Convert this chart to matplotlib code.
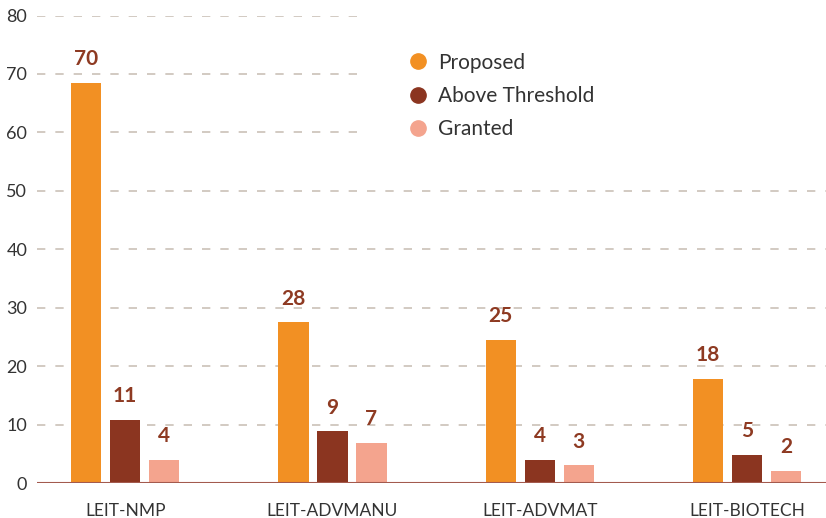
import matplotlib
matplotlib.use('Agg')
import matplotlib.pyplot as plt
from matplotlib.lines import Line2D
from matplotlib.patches import Rectangle
import numpy as np

plt.rcParams['font.family'] = ['Lato', 'DejaVu Sans']

categories = ['LEIT-NMP', 'LEIT-ADVMANU', 'LEIT-ADVMAT', 'LEIT-BIOTECH']
series = ['Proposed', 'Above Threshold', 'Granted']
# bar heights as drawn
proposed = [68.5, 27.5, 24.5, 17.9]
above = [10.9, 8.9, 4.0, 4.9]
granted = [4.0, 6.9, 3.1, 2.1]
# printed labels
proposed_lbl = ['70', '28', '25', '18']
above_lbl = ['11', '9', '4', '5']
granted_lbl = ['4', '7', '3', '2']
yticks = [0, 10, 20, 30, 40, 50, 60, 70, 80]

colors = ['#F29023', '#8B3520', '#F4A48E']
lbl_color = '#8E3A22'

fig = plt.figure(figsize=(8.26, 5.18), dpi=100)
ax = fig.add_axes([37 / 826, 34.7 / 518, 1 - 37 / 826, 467.8 / 518])

x = np.arange(len(categories))
w = 0.145
off = 0.188
for k, (vals, lbls) in enumerate([(proposed, proposed_lbl),
                                  (above, above_lbl),
                                  (granted, granted_lbl)]):
    xs = x + (k - 1) * off
    ax.bar(xs, vals, width=w, color=colors[k], zorder=3)
    for xi, v, t in zip(xs, vals, lbls):
        ax.annotate(t, (xi, v), xytext=(0, 17), textcoords='offset points',
                    ha='center', va='center', fontsize=15, fontweight='bold',
                    color=lbl_color, zorder=5)

ax.set_xlim(-0.425, 3.38)
ax.set_ylim(0, 80)
ax.set_yticks(yticks)
ax.set_xticks(x)
ax.set_xticklabels(categories)
ax.tick_params(axis='both', length=0, labelsize=12.5, colors='#333333')
ax.tick_params(axis='y', labelsize=13, pad=7)
ax.tick_params(axis='x', pad=14)
for s in ax.spines.values():
    s.set_visible(False)
ax.yaxis.grid(True, linestyle=(0, (5, 6)), color='#CBC1B8', linewidth=1.2, zorder=0)
ax.axhline(0, color='#A35A4E', linewidth=1.5, zorder=4)

# white area behind the legend
ax.add_patch(Rectangle((0.413, 0.68), 0.6, 0.4, transform=ax.transAxes,
                       facecolor='white', edgecolor='none', zorder=2, clip_on=False))

handles = [Line2D([], [], marker='o', linestyle='none', markersize=11,
                  markerfacecolor=c, markeredgecolor=c) for c in colors]
leg = ax.legend(handles, series, loc='upper left', bbox_to_anchor=(387 / 826, 1 - 34 / 518),
                bbox_transform=fig.transFigure, frameon=False, fontsize=15,
                handletextpad=0.35, labelspacing=0.64, handlelength=1.2)
for t in leg.get_texts():
    t.set_color('#333333')

fig.savefig('out.png', dpi=100)
